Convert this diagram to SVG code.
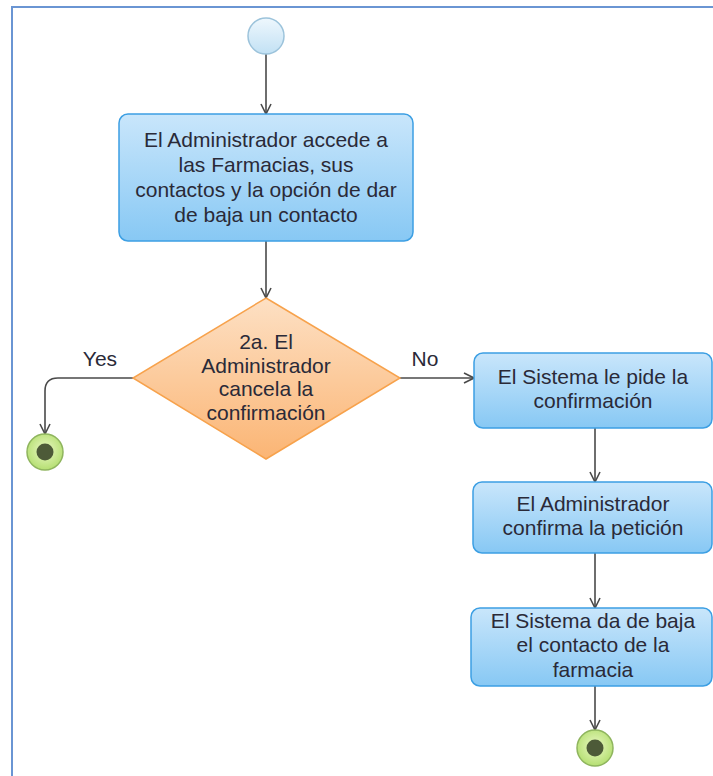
<svg xmlns="http://www.w3.org/2000/svg" width="713" height="776" viewBox="0 0 713 776">
<defs>
<style>
.t{font-family:"Liberation Sans",Arial,sans-serif;font-size:21px;fill:#2a2a38;text-anchor:middle}
.box{fill:url(#gb);stroke:#3c9fe3;stroke-width:1.5}
.c{fill:none;stroke:#4a4a4a;stroke-width:1.6;marker-end:url(#arr)}
</style>
<linearGradient id="gb" x1="0" y1="0" x2="0" y2="1"><stop offset="0" stop-color="#c9e6fb"/><stop offset="1" stop-color="#87c8f4"/></linearGradient>
<linearGradient id="gd" x1="0" y1="0" x2="0" y2="1"><stop offset="0" stop-color="#fde0c4"/><stop offset="1" stop-color="#fbb574"/></linearGradient>
<linearGradient id="gs" x1="0" y1="0" x2="0" y2="1"><stop offset="0" stop-color="#eef7fd"/><stop offset="1" stop-color="#c2e1f4"/></linearGradient>
<radialGradient id="ge" cx="0.5" cy="0.45" r="0.55"><stop offset="0" stop-color="#eaf8c4"/><stop offset="1" stop-color="#b5df72"/></radialGradient>
<marker id="arr" viewBox="0 0 12 12" refX="11" refY="6" markerWidth="12" markerHeight="12" markerUnits="userSpaceOnUse" orient="auto"><path d="M1,1 L11,6 L1,11" fill="none" stroke="#4a4a4a" stroke-width="1.6"/></marker>
</defs>
<rect width="713" height="776" fill="#ffffff"/>
<path d="M12,776 V7 H713" fill="none" stroke="#6a95d3" stroke-width="2"/>
<g id="connectors">
<path class="c" d="M266,54 V114"/>
<path class="c" d="M266,241 V298"/>
<path class="c" d="M133,378 H58 Q45,378 45,391 V434"/>
<path class="c" d="M400,378 H474"/>
<path class="c" d="M595,428 V482"/>
<path class="c" d="M595,553 V608"/>
<path class="c" d="M595,686 V730"/>
<text class="t" x="100" y="366">Yes</text>
<text class="t" x="425" y="366">No</text>
</g>
<g id="start"><circle cx="266" cy="36" r="18" fill="url(#gs)" stroke="#9cc3db" stroke-width="1.5"/></g>
<g id="n1">
<rect class="box" x="119" y="114" width="294" height="127" rx="9"/>
<text class="t" x="266" y="147">El Administrador accede a</text>
<text class="t" x="266" y="172">las Farmacias, sus</text>
<text class="t" x="266" y="197">contactos y la opción de dar</text>
<text class="t" x="266" y="222">de baja un contacto</text>
</g>
<g id="d1">
<path d="M266,298 L400,378 L266,459 L133,378 Z" fill="url(#gd)" stroke="#f7a24c" stroke-width="1.5"/>
<text class="t" x="266" y="349">2a. El</text>
<text class="t" x="266" y="373">Administrador</text>
<text class="t" x="266" y="396">cancela la</text>
<text class="t" x="266" y="420">confirmación</text>
</g>
<g id="end1"><circle cx="45" cy="452" r="18" fill="url(#ge)" stroke="#8fb55e" stroke-width="1.5"/><circle cx="45" cy="452" r="8.5" fill="#4d5a38"/></g>
<g id="n2">
<rect class="box" x="474" y="353" width="238" height="75" rx="9"/>
<text class="t" x="593" y="384">El Sistema le pide la</text>
<text class="t" x="593" y="408">confirmación</text>
</g>
<g id="n3">
<rect class="box" x="473" y="482" width="239" height="71" rx="9"/>
<text class="t" x="593" y="511">El Administrador</text>
<text class="t" x="593" y="535">confirma la petición</text>
</g>
<g id="n4">
<rect class="box" x="471" y="608" width="241" height="78" rx="9"/>
<text class="t" x="593" y="628">El Sistema da de baja</text>
<text class="t" x="593" y="652">el contacto de la</text>
<text class="t" x="593" y="677">farmacia</text>
</g>
<g id="end2"><circle cx="595" cy="748" r="18" fill="url(#ge)" stroke="#8fb55e" stroke-width="1.5"/><circle cx="595" cy="748" r="8.5" fill="#4d5a38"/></g>
</svg>
